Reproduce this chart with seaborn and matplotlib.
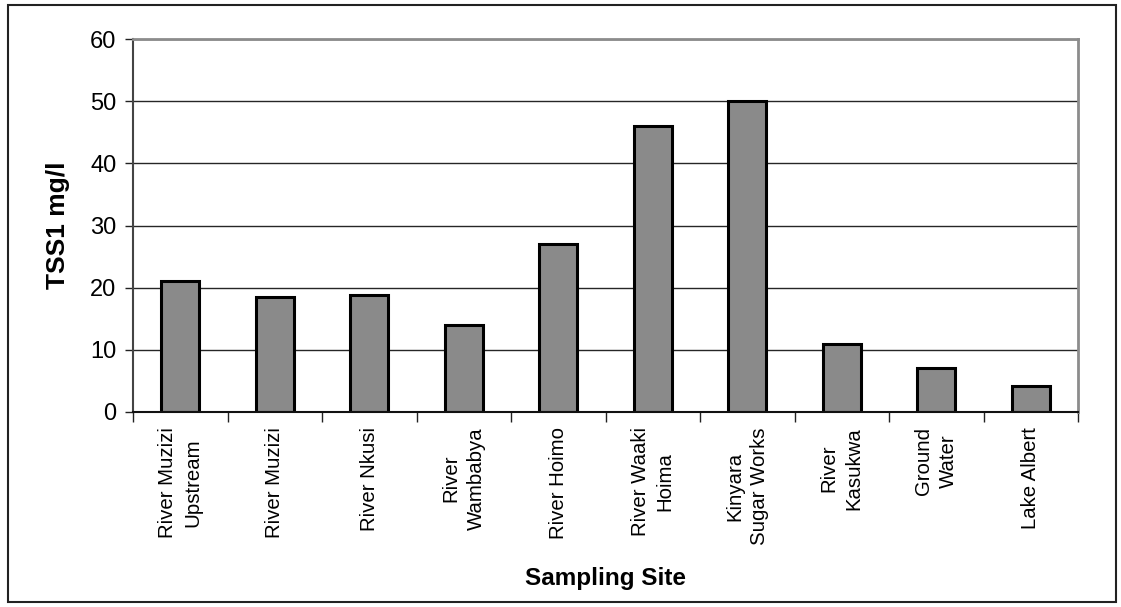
import matplotlib
matplotlib.use("Agg")
import matplotlib.pyplot as plt
from matplotlib.patches import Rectangle
from matplotlib.ticker import FixedLocator, NullFormatter
import seaborn as sns
import pandas as pd
import numpy as np

sites = [
    "River Muzizi\nUpstream",
    "River Muzizi",
    "River Nkusi",
    "River\nWambabya",
    "River Hoimo",
    "River Waaki\nHoima",
    "Kinyara\nSugar Works",
    "River\nKasukwa",
    "Ground\nWater",
    "Lake Albert",
]
tss_values = [21, 18.5, 18.8, 14, 27, 46, 50, 11, 7, 4.2]
y_ticks = [0, 10, 20, 30, 40, 50, 60]

df = pd.DataFrame({"site": sites, "tss": tss_values})

sns.set_theme(style="white")
plt.rcParams["font.family"] = ["Liberation Sans", "DejaVu Sans"]

fig = plt.figure(figsize=(11.21, 6.07), dpi=100)
W, H = 1121, 607
ax = fig.add_axes([133 / W, 1 - 412 / H, (1078 - 133) / W, (412 - 39) / H])

sns.barplot(data=df, x="site", y="tss", ax=ax, color="#8a8a8a",
            edgecolor="black", linewidth=2.2, width=0.4, saturation=1)

ax.set_ylim(0, 60)
ax.set_xlim(-0.5, len(sites) - 0.5)
ax.set_yticks(y_ticks)
ax.set_axisbelow(True)
ax.yaxis.grid(True, color="#262626", linewidth=1.0)
ax.xaxis.grid(False)

# category boundary ticks on the x axis
ax.xaxis.set_minor_locator(FixedLocator(np.arange(-0.5, len(sites), 1.0)))
ax.xaxis.set_minor_formatter(NullFormatter())
ax.tick_params(axis="x", which="minor", length=7, width=1, color="#222222",
               direction="out", bottom=True)
ax.tick_params(axis="x", which="major", length=0, pad=11, labelsize=14.7)
ax.tick_params(axis="y", which="major", length=6, width=1, color="#222222",
               direction="out", left=True, labelsize=17, pad=6)

for lab in ax.get_xticklabels():
    lab.set_rotation(90)
    lab.set_ha("center")
    lab.set_va("top")
    lab.set_multialignment("center")
    lab.set_linespacing(1.4)
    lab.set_color("black")
for lab in ax.get_yticklabels():
    lab.set_color("black")

for side in ["top", "right"]:
    ax.spines[side].set_visible(True)
    ax.spines[side].set_color("#8c8c8c")
    ax.spines[side].set_linewidth(2)
ax.spines["left"].set_color("#444444")
ax.spines["left"].set_linewidth(1.5)
ax.spines["bottom"].set_color("#111111")
ax.spines["bottom"].set_linewidth(1.5)

ax.set_xlabel("Sampling Site", fontsize=17.5, fontweight="bold", color="black")
ax.set_ylabel("TSS1 mg/l", fontsize=19, fontweight="bold", color="black")
ax.xaxis.set_label_coords(0.5, (412 - 567) / (412 - 39))
ax.yaxis.set_label_coords((70 - 133) / (1078 - 133), 0.5)

# outer chart frame
fig.patches.append(Rectangle((8 / W, 1 - 602 / H), (1116 - 8) / W, (602 - 5) / H,
                             transform=fig.transFigure, fill=False,
                             edgecolor="#222222", linewidth=1.5))

fig.savefig("out.png", dpi=100)
